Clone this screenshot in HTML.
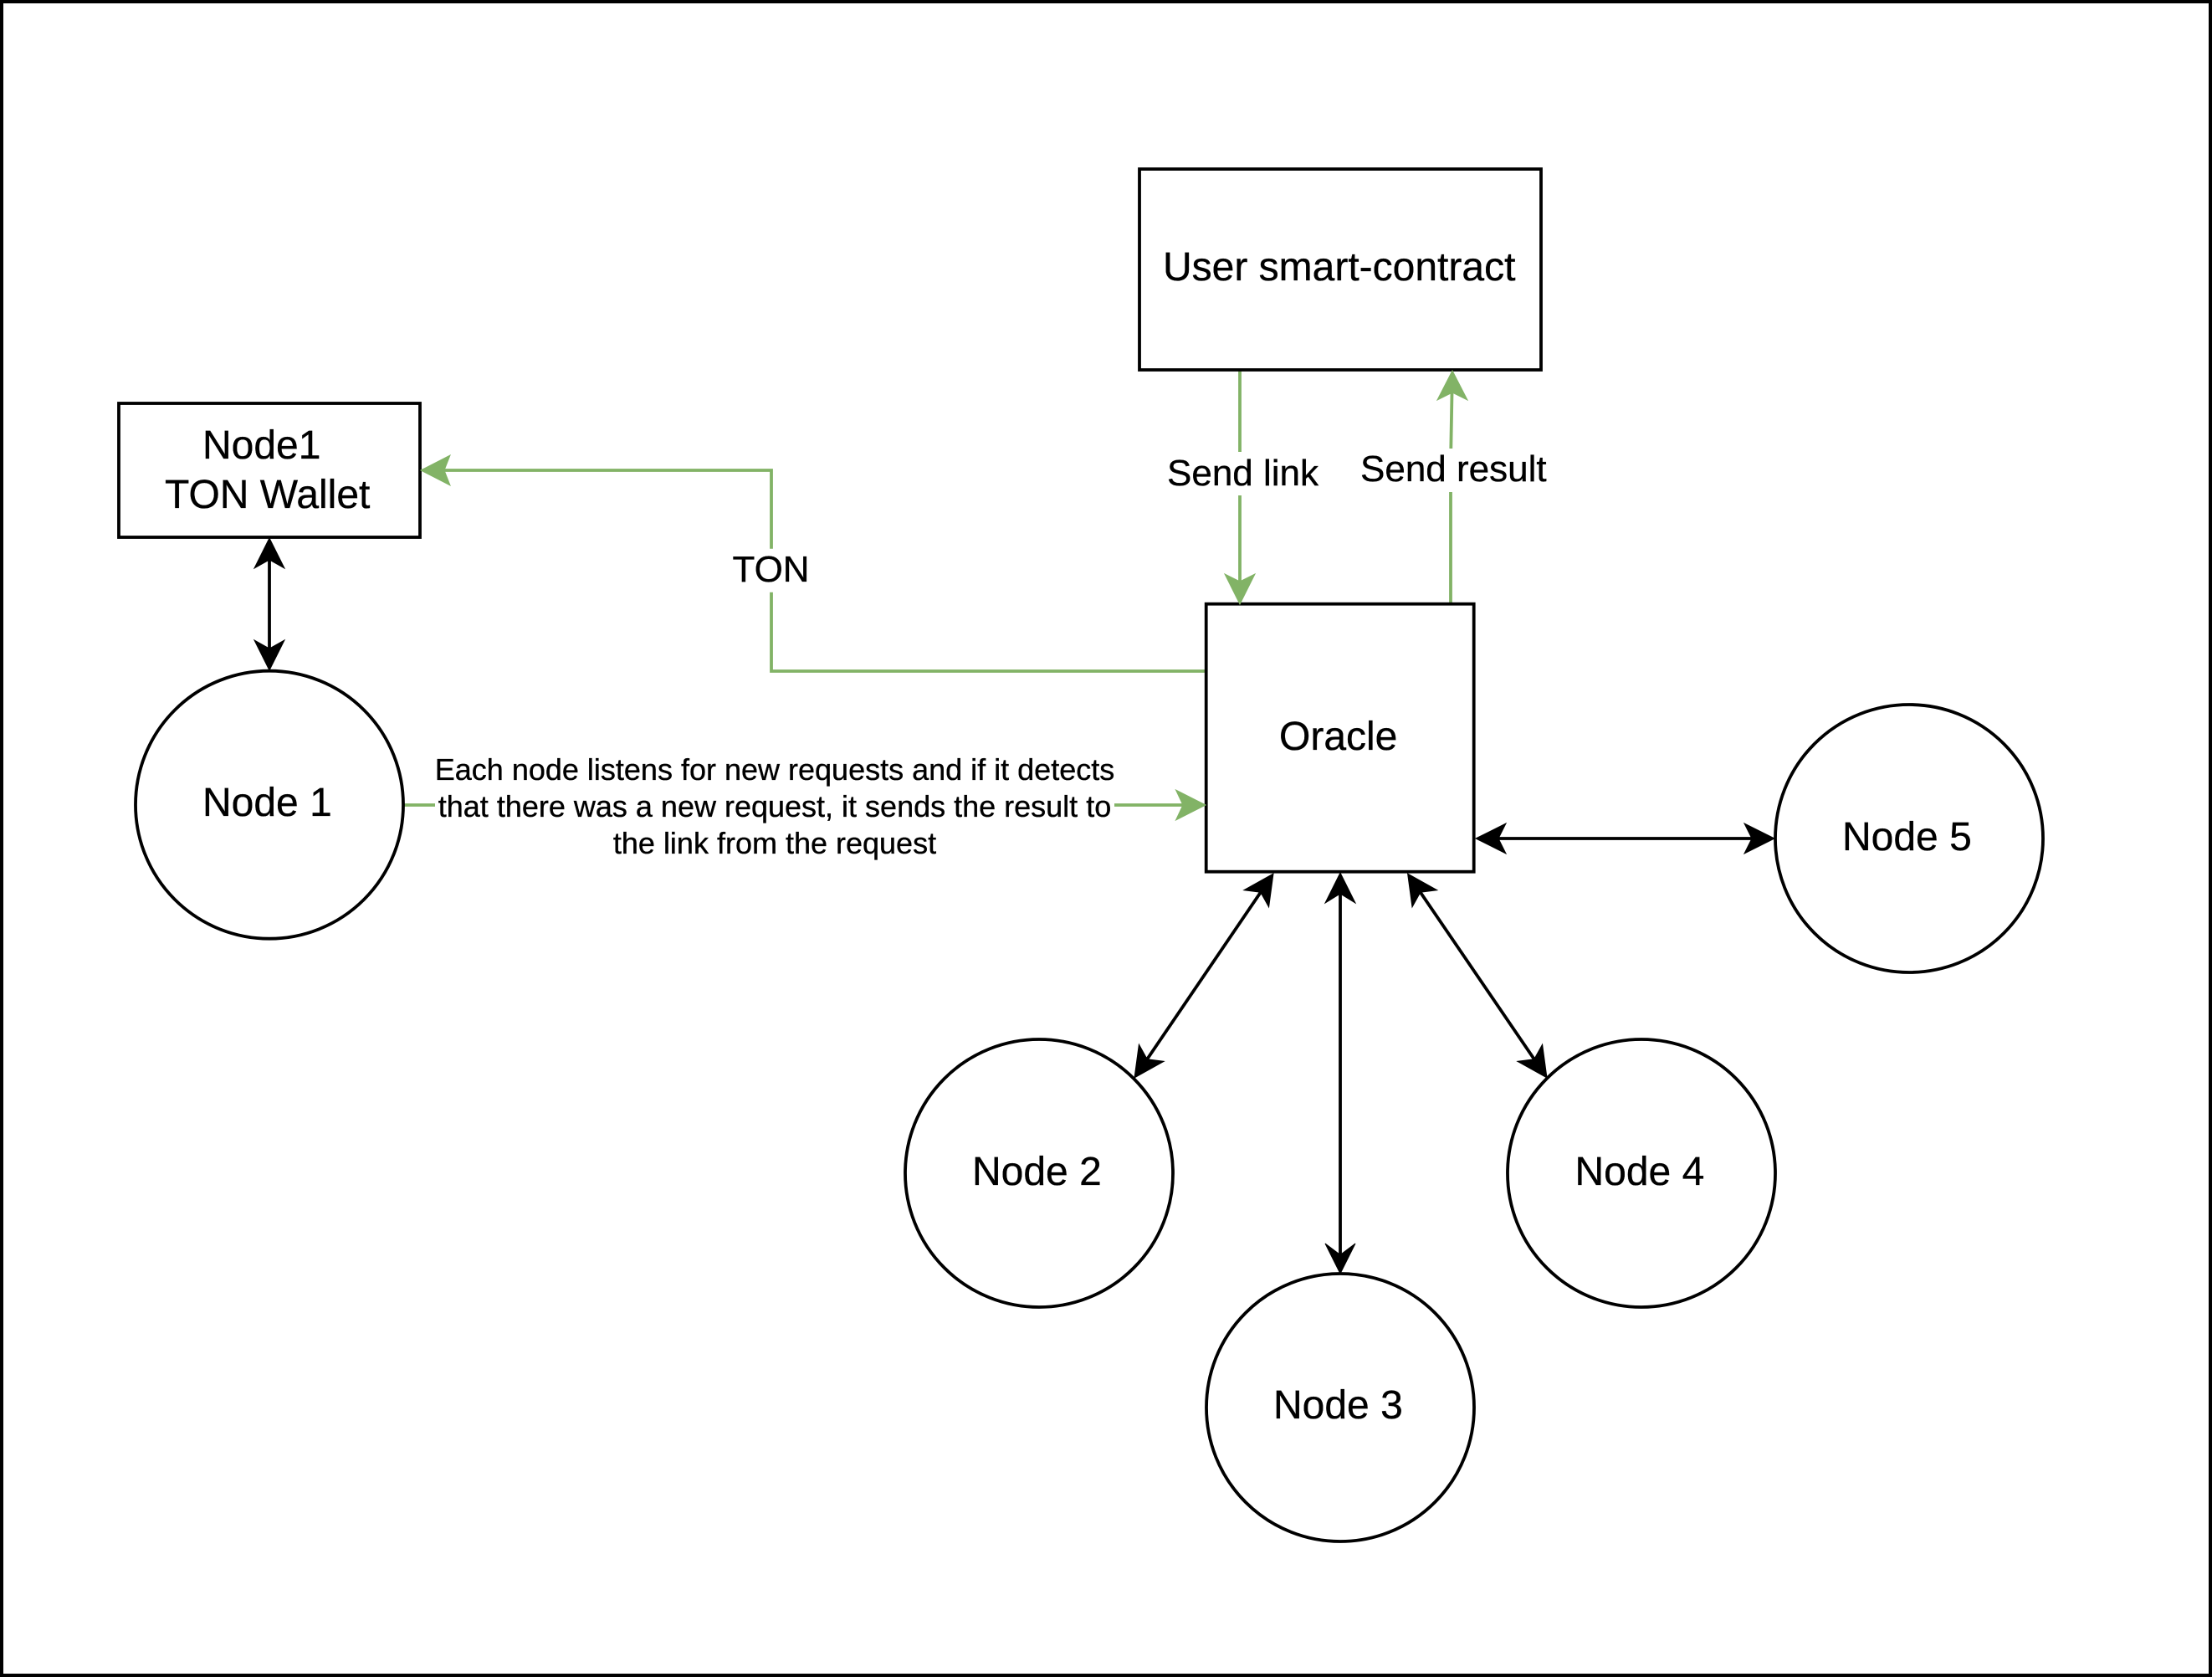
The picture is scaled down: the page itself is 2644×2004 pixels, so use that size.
<!DOCTYPE html>
<html lang="en">
<head>
<meta charset="utf-8">
<title>Oracle diagram</title>
<style>
html,body{margin:0;padding:0;background:#fff;width:2644px;height:2004px;overflow:hidden}
svg{display:block}
text{font-family:"Liberation Sans",Arial,sans-serif;fill:#000;stroke:#000;stroke-width:.35}
.n{font-size:48px}
.l{font-size:44px}
.s{font-size:36px}
.k{fill:none;stroke:#000;stroke-width:3.8}
.g{fill:none;stroke:#82b366;stroke-width:3.8}
.b{fill:#fff;stroke:#000;stroke-width:3.8}
.ka{fill:#000;stroke:#000;stroke-width:1}
.ga{fill:#82b366;stroke:#82b366;stroke-width:1}
</style>
</head>
<body>
<svg width="2644" height="2004" viewBox="0 0 2644 2004" xmlns="http://www.w3.org/2000/svg">
<rect x="0" y="0" width="2644" height="2004" fill="#fff"/>
<rect x="2" y="2" width="2640" height="2000" fill="none" stroke="#000" stroke-width="4"/>

<!-- green connectors -->
<path class="g" d="M1482 442V540M1482 592V695"/>
<path class="g" d="M1734 722V588M1734.3 536L1735.5 469"/>
<path class="g" d="M1441 802H922V707.7M922 655.7V562H531"/>
<path class="g" d="M482 962H520M1332 962H1414"/>

<!-- black connectors -->
<path class="k" d="M322 669V775"/>
<path class="k" d="M1602 1068V1499.5"/>
<path class="k" d="M1506.8 1066.3L1371.2 1265.7"/>
<path class="k" d="M1697.8 1066.3L1833.8 1265.7"/>
<path class="k" d="M1791 1002H2094"/>

<!-- shapes -->
<rect class="b" x="1362" y="202" width="480" height="240"/>
<rect class="b" x="142" y="482" width="360" height="160"/>
<rect class="b" x="1441.7" y="721.7" width="320" height="320"/>
<circle class="b" cx="322" cy="961.7" r="160"/>
<circle class="b" cx="1242" cy="1402" r="160"/>
<circle class="b" cx="1602" cy="1682" r="160"/>
<circle class="b" cx="1962" cy="1402" r="160"/>
<circle class="b" cx="2282" cy="1002" r="160"/>

<!-- green arrowheads -->
<polygon class="ga" points="1482,722 1464,686 1482,695 1500,686"/>
<polygon class="ga" points="1736,443 1718,478 1736,469 1754,478"/>
<polygon class="ga" points="503,562 538,544 531,562 538,580"/>
<polygon class="ga" points="1441,962 1405.5,944 1414,962 1405.5,980"/>

<!-- black arrowheads -->
<polygon class="ka" points="322,643 304,679 322,669 340,679"/>
<polygon class="ka" points="322,801 304,765 322,775 340,765"/>
<polygon class="ka" points="1602,1043 1584,1079 1602,1068 1620,1079"/>
<polygon class="ka" points="1602,1522 1584,1486 1602,1499.5 1620,1486"/>
<polygon class="ka" points="1522,1044 1516.6,1083.9 1506.8,1066.3 1486.8,1063.7"/>
<polygon class="ka" points="1356,1288 1391.2,1268.3 1371.2,1265.7 1361.4,1248.1"/>
<polygon class="ka" points="1682.6,1044 1688,1083.9 1697.8,1066.3 1717.8,1063.7"/>
<polygon class="ka" points="1849,1288 1813.8,1268.3 1833.8,1265.7 1843.6,1248.1"/>
<polygon class="ka" points="1764,1002 1800,984 1791,1002 1800,1020"/>
<polygon class="ka" points="2121,1002 2085,984 2094,1002 2085,1020"/>

<!-- labels -->
<text class="n" x="1390" y="335">User smart-contract</text>
<text class="n" x="242" y="548">Node1</text>
<text class="n" x="197" y="607">TON Wallet</text>
<text class="n" x="242" y="975">Node 1</text>
<text class="n" x="1529" y="896">Oracle</text>
<text class="n" x="1162" y="1416">Node 2</text>
<text class="n" x="1522" y="1695">Node 3</text>
<text class="n" x="1882.5" y="1416">Node 4</text>
<text class="n" x="2202" y="1016">Node 5</text>
<text class="l" x="1395" y="580">Send link</text>
<text class="l" x="1626" y="575">Send result</text>
<text class="l" x="875.5" y="695">TON</text>
<text class="s" x="926" y="932" text-anchor="middle">Each node listens for new requests and if it detects</text>
<text class="s" x="926" y="976" text-anchor="middle">that there was a new request, it sends the result to</text>
<text class="s" x="926" y="1020" text-anchor="middle">the link from the request</text>
</svg>
</body>
</html>
